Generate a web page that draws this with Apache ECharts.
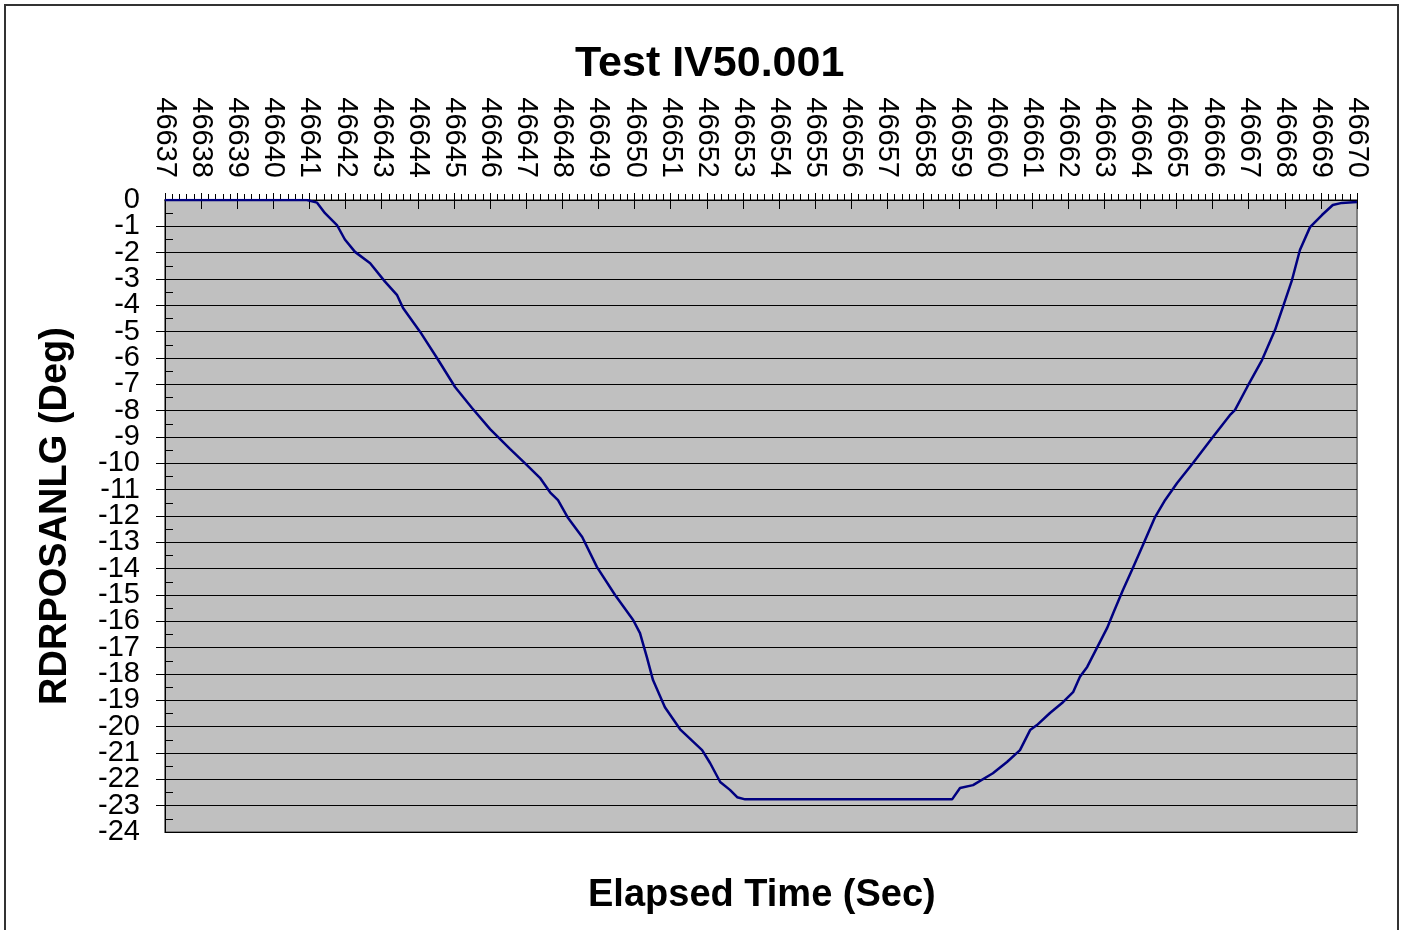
<!DOCTYPE html>
<html>
<head>
<meta charset="utf-8">
<script src="https://cdn.jsdelivr.net/npm/echarts@6/dist/echarts.min.js"></script>
<style>
html, body { margin: 0; padding: 0; background: #fff; }
#chart { width: 1405px; height: 930px; }
</style>
</head>
<body>
<div id="chart"></div>
<script>
// elapsed time (sec) and rudder position angle (deg)
var times = [46637, 46640.93, 46641.21, 46641.43, 46641.76, 46641.98, 46642.26, 46642.68, 46643.09, 46643.42,
	46643.59, 46644.06, 46644.53, 46645.03, 46645.5, 46646.0, 46646.55, 46646.97, 46647.38, 46647.66,
	46647.88, 46648.16, 46648.55, 46648.96, 46649.46, 46649.96, 46650.15, 46650.34, 46650.51, 46650.84,
	46651.26, 46651.87, 46652.09, 46652.37, 46652.64, 46652.84, 46653.06, 46658.79, 46659.01, 46659.37,
	46659.92, 46660.31, 46660.67, 46660.95, 46661.14, 46661.5, 46661.86, 46662.14, 46662.33, 46662.53,
	46662.8, 46663.08, 46663.25, 46663.52, 46663.77, 46664.05, 46664.41, 46664.69, 46665.02, 46665.46,
	46666.01, 46666.48, 46666.62, 46666.96, 46667.37, 46667.73, 46667.95, 46668.2, 46668.42, 46668.7,
	46669.03, 46669.33, 46669.58, 46670];
var angles = [0, 0, -0.1, -0.5, -0.95, -1.5, -1.97, -2.4, -3.1, -3.6,
	-4.1, -5.0, -6.0, -7.1, -7.9, -8.7, -9.45, -10.0, -10.55, -11.1,
	-11.4, -12.08, -12.8, -13.94, -15.0, -15.95, -16.45, -17.36, -18.23, -19.26,
	-20.1, -20.89, -21.38, -22.1, -22.4, -22.68, -22.76, -22.76, -22.33, -22.22,
	-21.77, -21.34, -20.89, -20.13, -19.94, -19.48, -19.07, -18.69, -18.1, -17.73,
	-17.01, -16.26, -15.69, -14.81, -14.05, -13.18, -12.04, -11.39, -10.75, -9.99,
	-9.0, -8.17, -7.98, -7.1, -6.08, -4.94, -4.06, -3.04, -1.9, -1.03,
	-0.57, -0.19, -0.11, -0.08];
var xMin = 46637, xMax = 46670;
var yMin = -24, yMax = 0;

var font = 'Arial, "Liberation Sans", sans-serif';
var points = times.map(function(t, i) { return [t, angles[i]]; });

var yLabel = {
	margin: 25,
	fontFamily: font,
	fontSize: 29,
	color: '#000'
};

var myChart = echarts.init(document.getElementById('chart'));
var option = {
	backgroundColor: '#fff',
	animation: false,
	title: [{
		text: 'Test IV50.001',
		left: 570,
		top: 38,
		textStyle: { fontFamily: font, fontSize: 43, fontWeight: 'bold', color: '#000' }
	}, {
		text: 'Elapsed Time (Sec)',
		left: 583,
		top: 872,
		textStyle: { fontFamily: font, fontSize: 38, fontWeight: 'bold', color: '#000' }
	}],
	graphic: [{
		type: 'rect',
		shape: { x: 5, y: 5, width: 1393, height: 940 },
		style: { fill: 'none', stroke: '#333', lineWidth: 2 },
		silent: true
	}],
	grid: {
		left: 165,
		right: 48,
		top: 200,
		bottom: 98,
		show: true,
		backgroundColor: '#c0c0c0',
		borderColor: '#808080',
		borderWidth: 2
	},
	xAxis: [{
		type: 'value',
		position: 'top',
		min: xMin,
		max: xMax,
		interval: 1,
		axisLine: { show: true, lineStyle: { color: '#000', width: 1 } },
		axisTick: { show: true, length: 7, lineStyle: { color: '#000' } },
		minorTick: { show: true, splitNumber: 5, length: 6, lineStyle: { color: '#000' } },
		splitLine: { show: false },
		axisLabel: {
			rotate: -90,
			margin: 22,
			showMinLabel: true,
			showMaxLabel: true,
			fontFamily: font,
			fontSize: 29,
			color: '#000',
			formatter: function(v) { return String(v); }
		}
	}, {
		type: 'value',
		position: 'top',
		min: xMin,
		max: xMax,
		interval: 1,
		axisLine: { show: false },
		axisTick: { show: true, inside: true, length: 9, lineStyle: { color: '#000' } },
		splitLine: { show: false },
		axisLabel: { show: false }
	}],
	yAxis: [{
		// labels -1 .. -23, major ticks, gridlines
		type: 'value',
		min: yMin,
		max: yMax,
		interval: 1,
		name: 'RDRPOSANLG (Deg)',
		nameLocation: 'middle',
		nameGap: 90,
		nameTextStyle: { fontFamily: font, fontSize: 38, fontWeight: 'bold', color: '#000' },
		axisLine: { show: true, lineStyle: { color: '#000', width: 1 } },
		axisTick: { show: true, length: 9, lineStyle: { color: '#000' } },
		splitLine: { show: true, lineStyle: { color: '#000', width: 1 } },
		axisLabel: Object.assign({ showMinLabel: false, showMaxLabel: false }, yLabel)
	}, {
		// end labels 0 and -24, inner half-step ticks
		type: 'value',
		position: 'left',
		min: yMin,
		max: yMax,
		interval: 1,
		axisLine: { show: false },
		axisTick: { show: true, inside: true, length: 0 },
		minorTick: { show: true, splitNumber: 2, length: 8, lineStyle: { color: '#000' } },
		splitLine: { show: false },
		axisLabel: Object.assign({
			showMinLabel: true,
			showMaxLabel: true,
			formatter: function(v) { return (v === yMin || v === yMax) ? String(v) : ''; }
		}, yLabel)
	}],
	series: [{
		name: 'RDRPOSANLG',
		type: 'line',
		xAxisIndex: 0,
		yAxisIndex: 0,
		showSymbol: false,
		smooth: false,
		lineStyle: { color: '#000080', width: 2.5 },
		data: points
	}]
};
myChart.setOption(option);
</script>
</body>
</html>
